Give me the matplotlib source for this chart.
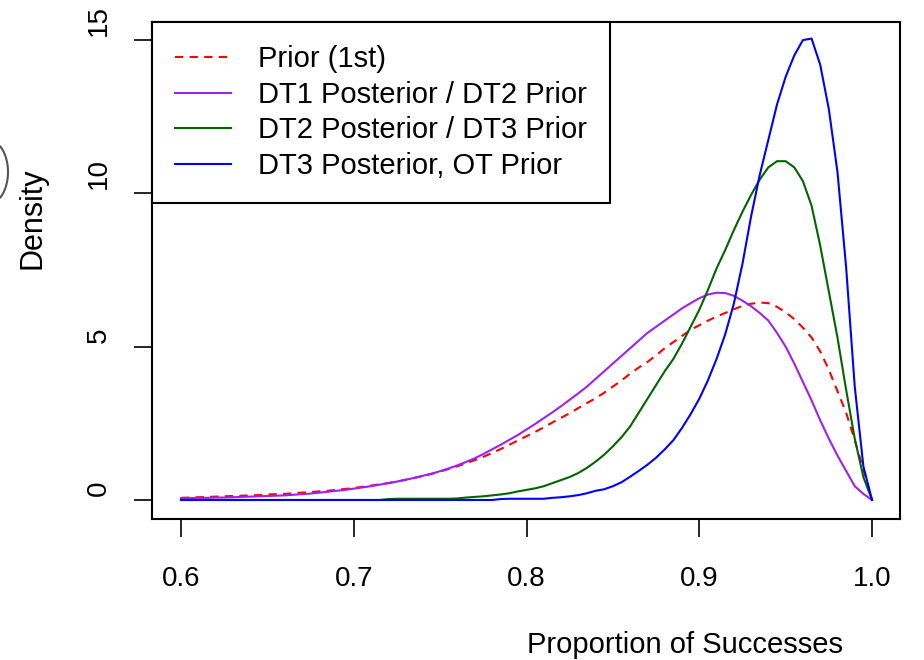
import matplotlib
matplotlib.use("Agg")
import matplotlib.pyplot as plt
from matplotlib.patches import Ellipse
import numpy as np

plt.rcParams['font.family'] = ['Liberation Sans', 'DejaVu Sans']

# x grid (proportion of successes)
x = np.round(np.arange(0.600, 1.0001, 0.005), 3)

prior = [0.07, 0.08, 0.09, 0.10, 0.11, 0.12, 0.13, 0.14, 0.15, 0.16,
         0.18, 0.19, 0.20, 0.22, 0.24, 0.26, 0.28, 0.30, 0.33, 0.36,
         0.39, 0.43, 0.47, 0.51, 0.55, 0.60, 0.66, 0.72, 0.78, 0.85,
         0.93, 1.01, 1.10, 1.20, 1.30, 1.41, 1.53, 1.66, 1.80, 1.94,
         2.08, 2.22, 2.37, 2.53, 2.68, 2.83, 3.00, 3.16, 3.32, 3.50,
         3.70, 3.90, 4.12, 4.32, 4.50, 4.72, 4.95, 5.15, 5.35, 5.55,
         5.70, 5.85, 5.98, 6.10, 6.22, 6.33, 6.40, 6.44, 6.42, 6.30,
         6.12, 5.90, 5.62, 5.30, 4.85, 4.25, 3.55, 2.85, 1.95, 1.00,
         0.00]

dt1_post = [0.06, 0.06, 0.07, 0.07, 0.08, 0.08, 0.09, 0.10, 0.11, 0.12,
            0.13, 0.14, 0.15, 0.17, 0.19, 0.21, 0.24, 0.27, 0.30, 0.33,
            0.37, 0.41, 0.45, 0.50, 0.55, 0.60, 0.66, 0.72, 0.79, 0.86,
            0.94, 1.03, 1.13, 1.24, 1.36, 1.50, 1.65, 1.80, 1.96, 2.12,
            2.30, 2.48, 2.67, 2.86, 3.06, 3.27, 3.48, 3.70, 3.95, 4.20,
            4.45, 4.70, 4.95, 5.20, 5.45, 5.65, 5.85, 6.05, 6.25, 6.42,
            6.58, 6.70, 6.76, 6.75, 6.66, 6.50, 6.32, 6.10, 5.85, 5.45,
            5.00, 4.45, 3.85, 3.25, 2.60, 2.00, 1.45, 0.95, 0.45, 0.20,
            0.00]

dt2_post = [0.00, 0.00, 0.00, 0.00, 0.00, 0.00, 0.00, 0.00, 0.00, 0.00,
            0.00, 0.00, 0.00, 0.00, 0.00, 0.00, 0.00, 0.00, 0.00, 0.00,
            0.00, 0.00, 0.00, 0.00, 0.03, 0.04, 0.04, 0.04, 0.04, 0.04,
            0.04, 0.04, 0.05, 0.08, 0.10, 0.12, 0.15, 0.18, 0.22, 0.28,
            0.33, 0.38, 0.45, 0.55, 0.65, 0.75, 0.88, 1.05, 1.25, 1.48,
            1.75, 2.05, 2.40, 2.85, 3.30, 3.75, 4.20, 4.60, 5.10, 5.65,
            6.20, 6.85, 7.55, 8.15, 8.80, 9.40, 9.95, 10.45, 10.85, 11.05,
            11.05, 10.85, 10.40, 9.60, 8.30, 6.80, 5.30, 3.60, 2.00, 0.75,
            0.00]

dt3_post = [0.00, 0.00, 0.00, 0.00, 0.00, 0.00, 0.00, 0.00, 0.00, 0.00,
            0.00, 0.00, 0.00, 0.00, 0.00, 0.00, 0.00, 0.00, 0.00, 0.00,
            0.00, 0.00, 0.00, 0.00, 0.00, 0.00, 0.00, 0.00, 0.00, 0.00,
            0.00, 0.00, 0.00, 0.00, 0.00, 0.00, 0.00, 0.03, 0.04, 0.04,
            0.04, 0.04, 0.04, 0.07, 0.09, 0.12, 0.16, 0.22, 0.30, 0.35,
            0.45, 0.58, 0.76, 0.95, 1.15, 1.38, 1.65, 1.95, 2.35, 2.80,
            3.30, 3.90, 4.60, 5.40, 6.40, 7.70, 9.25, 10.60, 11.75, 12.90,
            13.80, 14.50, 15.00, 15.05, 14.20, 12.75, 10.70, 7.60, 3.70, 1.10,
            0.00]

labels = ["Prior (1st)", "DT1 Posterior / DT2 Prior",
          "DT2 Posterior / DT3 Prior", "DT3 Posterior, OT Prior"]
x_ticks = [0.6, 0.7, 0.8, 0.9, 1.0]
y_ticks = [0, 5, 10, 15]

W, H = 924, 660


def fx(px):
    return px / W


def fy(py):
    return 1 - py / H


fig = plt.figure(figsize=(W / 100, H / 100), dpi=100)
ax = fig.add_axes([fx(152), fy(519), fx(900) - fx(152), fy(22) - fy(519)])

ax.plot(x, prior, color="#FF0000", lw=1.5, dashes=(4, 3), label=labels[0])
ax.plot(x, dt1_post, color="#A020F0", lw=1.5, label=labels[1])
ax.plot(x, dt2_post, color="#006400", lw=1.5, label=labels[2])
ax.plot(x, dt3_post, color="#0000FF", lw=1.5, label=labels[3])

ax.set_xlim(0.5832, 1.0162)
ax.set_ylim(-0.62, 15.59)
ax.set_xticks(x_ticks)
ax.set_xticklabels([f"{v:.1f}" for v in x_ticks], fontsize=20)
ax.set_yticks(y_ticks)
ax.set_yticklabels([])
# upright y labels, R style: they sit just above each tick
for v in y_ticks:
    ax.text(-0.0535, v + 0.13, str(v), transform=ax.get_yaxis_transform(),
            rotation=90, ha="right", va="bottom", fontsize=20)
ax.tick_params(axis="both", direction="out", length=13, width=1.2)
ax.tick_params(axis="x", pad=21)
for s in ax.spines.values():
    s.set_linewidth(1.5)

leg = ax.legend(loc="upper left", borderaxespad=0, fancybox=False,
                fontsize=21, handlelength=1.9, handletextpad=0.92,
                labelspacing=0.26, borderpad=0.8, framealpha=1)
leg.get_frame().set_edgecolor("black")
leg.get_frame().set_linewidth(1.5)

fig.text(fx(685), fy(645), "Proportion of Successes", fontsize=21,
         ha="center", va="center")
fig.text(fx(32), fy(218), "Density", fontsize=22, rotation=90,
         ha="center", va="center")

# stray grey arc at the left edge
fig.patches.append(Ellipse((fx(-10), fy(172)), fx(36), 62 / H,
                           transform=fig.transFigure, fill=False,
                           edgecolor="#555555", lw=1.5))

fig.savefig("out.png", dpi=100)
